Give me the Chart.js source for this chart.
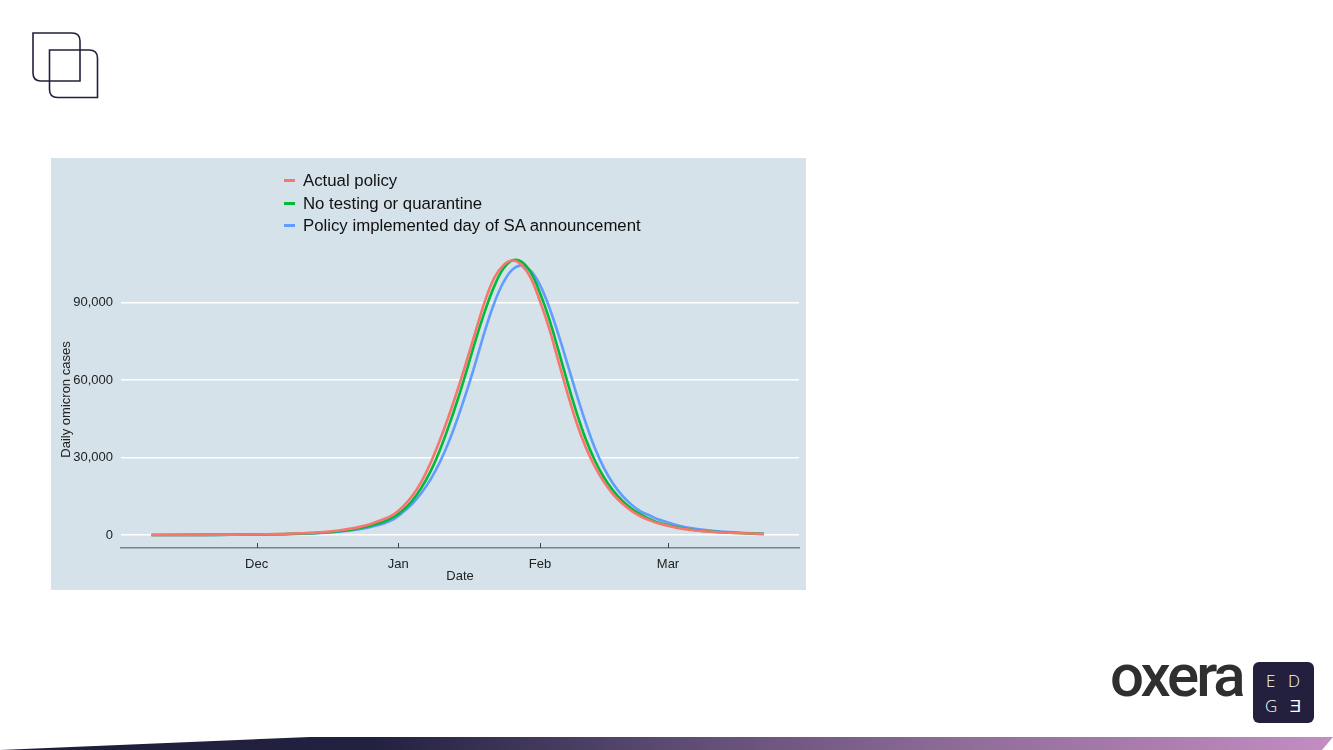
<!DOCTYPE html>
<html>
<head>
<meta charset="utf-8">
<script src="https://cdn.jsdelivr.net/npm/chart.js@4.4.0/dist/chart.umd.min.js"></script>
<style>
  body { margin: 0; width: 1333px; height: 750px; background: #fff; position: relative; overflow: hidden;
         font-family: 'Liberation Sans', Arial, sans-serif; }
  #panel { position: absolute; left: 51px; top: 158px; width: 755px; height: 432px; background: #d5e2ea; }
  #legend { position: absolute; left: 284px; top: 170px; }
  #legend .item { height: 22.5px; line-height: 22.5px; font-size: 16.8px; color: #111; white-space: nowrap; }
  #legend .swatch { display: inline-block; width: 11px; height: 3px; vertical-align: middle; margin-right: 8px; position: relative; top: -1px; }
  #logo { position: absolute; left: 1110px; top: 646px; font-family: Roboto, sans-serif; font-weight: 500;
          font-size: 60px; line-height: 60px; letter-spacing: -3px; color: #2f2f2f; }
  #edge { position: absolute; left: 1253px; top: 662px; width: 61px; height: 61px; border-radius: 6px; background: #22203d;
          color: #fff; font-family: 'Open Sans', sans-serif; font-weight: 300; font-size: 17px; line-height: 25px;
          text-align: center; letter-spacing: 4px; padding-top: 6px; padding-left: 3px; box-sizing: border-box; }
  #bar { position: absolute; left: 0; top: 737px; width: 1333px; height: 13px;
         background: linear-gradient(90deg, #1e1e3b 0%, #22213f 28%, #5b4a72 50%, #8f6c98 72%, #c48dc3 100%);
         clip-path: polygon(0 100%, 310px 0, 100% 0, 1322px 100%); }
</style>
</head>
<body>
<svg width="110" height="110" style="position:absolute;left:0;top:0">
  <path d="M33 33 H72 Q80 33 80 41 V81 H41 Q33 81 33 73 Z" fill="none" stroke="#22203d" stroke-width="1.6"/>
  <path d="M49.5 50 H89 Q97.5 50 97.5 58 V97.5 H57.5 Q49.5 97.5 49.5 89.5 Z" fill="none" stroke="#22203d" stroke-width="1.6"/>
</svg>
<div id="panel"><canvas id="chart" width="755" height="432"></canvas></div>
<div id="legend"></div>
<div id="logo">oxera</div>
<div id="edge">E D<br>G Ǝ</div>
<div id="bar"></div>
<script>
// Дни с 1 ноября 2021 (0 = 1 ноя)
const days = [7, 14, 21, 28, 32, 36, 40, 44, 48, 51, 54, 56, 58, 60, 62, 64, 66, 68, 70, 72, 74, 76, 78, 80, 82, 84, 86, 88, 90, 92, 94, 96, 98, 100, 102, 104, 106, 108, 110, 112, 114, 116, 118, 122, 126, 130, 135, 141];

const actualPolicy = [50, 80, 120, 200, 300, 450, 700, 1100, 1800, 2600, 3800, 5000, 6300, 8000, 11000, 15000, 20500, 27700, 36300, 45900, 56400, 67700, 79500, 90800, 99600, 104500, 106300, 104500, 99500, 90500, 80000, 67500, 55000, 43500, 34000, 26500, 20500, 15800, 12200, 9400, 7300, 5700, 4500, 2800, 1800, 1200, 800, 400];
const noTesting = [40, 70, 100, 170, 250, 380, 600, 950, 1500, 2200, 3200, 4200, 5300, 7000, 9600, 13200, 18200, 24500, 32500, 42000, 52500, 64000, 76000, 87000, 96400, 103200, 106400, 105800, 101600, 93700, 83700, 71700, 59200, 47400, 37200, 28900, 22300, 17200, 13300, 10300, 8000, 6200, 4800, 3000, 1900, 1300, 800, 450];
const saAnnouncement = [40, 60, 90, 150, 220, 330, 500, 800, 1300, 1900, 2800, 3600, 4600, 6200, 8800, 12000, 16200, 21400, 27900, 35900, 45400, 55900, 67400, 79400, 89900, 97900, 102900, 104400, 102300, 96800, 88300, 77800, 66300, 54500, 43500, 33700, 25900, 19900, 15300, 11800, 9200, 7600, 6000, 3800, 2400, 1600, 1000, 500];

const seriesNames = ['Actual policy', 'No testing or quarantine', 'Policy implemented day of SA announcement'];
const seriesColors = ['#f8766d', '#00ba38', '#619cff'];

const monthDays = [30, 61, 92, 120];
const monthLabels = ['Dec', 'Jan', 'Feb', 'Mar'];
const yTicks = [0, 30000, 60000, 90000];

const fontFamily = "'Liberation Sans', Arial, sans-serif";

// Легенда
const legend = document.getElementById('legend');
seriesNames.forEach((name, i) => {
    const item = document.createElement('div');
    item.className = 'item';
    item.innerHTML = `<span class="swatch" style="background:${seriesColors[i]}"></span>${name}`;
    legend.appendChild(item);
});

// Маленькие засечки над осью X
const innerTicks = {
    id: 'innerTicks',
    afterDraw(chart) {
        const ctx = chart.ctx;
        const x = chart.scales.x;
        const bottom = chart.chartArea.bottom;
        ctx.save();
        ctx.strokeStyle = '#444';
        ctx.lineWidth = 1;
        monthDays.forEach(d => {
            const px = Math.round(x.getPixelForValue(d)) + 0.5;
            ctx.beginPath();
            ctx.moveTo(px, bottom - 5);
            ctx.lineTo(px, bottom);
            ctx.stroke();
        });
        ctx.restore();
    }
};

const allSeries = [actualPolicy, noTesting, saAnnouncement];

new Chart(document.getElementById('chart').getContext('2d'), {
    type: 'line',
    data: {
        labels: days,
        datasets: allSeries.map((vals, i) => ({
            label: seriesNames[i],
            data: vals.map((v, j) => ({ x: days[j], y: v })),
            borderColor: seriesColors[i],
            borderWidth: 2.6,
            pointRadius: 0,
            fill: false,
            tension: 0.4
        }))
    },
    options: {
        responsive: false,
        animation: false,
        layout: { padding: { top: 93, right: 7, left: 0, bottom: 0 } },
        plugins: {
            legend: { display: false },
            tooltip: { enabled: false }
        },
        scales: {
            x: {
                type: 'linear',
                min: 0.33,
                max: 148.66,
                afterBuildTicks: s => { s.ticks = monthDays.map(v => ({ value: v })); },
                afterFit: s => { s.height = 42; },
                grid: { display: true, drawOnChartArea: false, drawTicks: false },
                border: { display: true, color: '#808080', width: 1.5 },
                ticks: {
                    padding: 9,
                    maxRotation: 0,
                    autoSkip: false,
                    color: '#222',
                    font: { family: fontFamily, size: 13 },
                    callback: (v, i) => monthLabels[i]
                },
                title: {
                    display: true,
                    text: 'Date',
                    color: '#222',
                    font: { family: fontFamily, size: 13 },
                    padding: { top: 0, bottom: 6 }
                }
            },
            y: {
                min: -5000,
                max: 110000,
                afterBuildTicks: s => { s.ticks = yTicks.map(v => ({ value: v })); },
                afterFit: s => { s.width = 70; },
                grid: { color: '#ffffff', lineWidth: 1.5, drawTicks: false },
                border: { display: false },
                ticks: {
                    padding: 8,
                    color: '#222',
                    font: { family: fontFamily, size: 13 },
                    callback: v => v.toLocaleString('en-US')
                },
                title: {
                    display: true,
                    text: 'Daily omicron cases',
                    color: '#222',
                    font: { family: fontFamily, size: 13 },
                    padding: { top: 8, bottom: 0 }
                }
            }
        }
    },
    plugins: [innerTicks]
});
</script>
</body>
</html>
